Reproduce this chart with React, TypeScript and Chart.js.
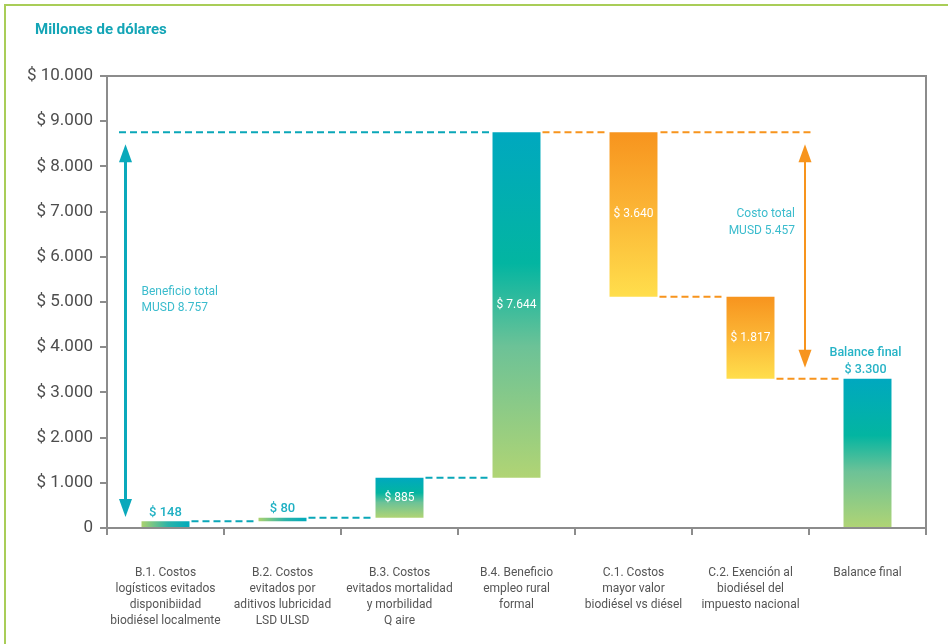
import React, { useEffect, useRef } from 'react';
import { Chart, registerables } from 'chart.js';

Chart.register(...registerables);

// ---------- data ----------
const categories: string[][] = [
  ['B.1. Costos', 'logísticos evitados', 'disponibiidad', 'biodiésel localmente'],
  ['B.2. Costos', 'evitados por', 'aditivos lubricidad', 'LSD ULSD'],
  ['B.3. Costos', 'evitados mortalidad', 'y morbilidad', 'Q aire'],
  ['B.4. Beneficio', 'empleo rural', 'formal'],
  ['C.1. Costos', 'mayor valor', 'biodiésel vs diésel'],
  ['C.2. Exención al', 'biodiésel del', 'impuesto nacional'],
  ['Balance final'],
];
const benefitValues: number[] = [148, 80, 885, 7644];
const costValues: number[] = [3640, 1817];
const balanceValue = 3300;
const yMin = 0;
const yMax = 10000;
const yStep = 1000;
const titleText = 'Millones de dólares';
const benefitLabel = ['Beneficio total', 'MUSD 8.757'];
const costLabel = ['Costo total', 'MUSD 5.457'];
const balanceLabel = ['Balance final', '$ 3.300'];

// ---------- derived ----------
const ranges: [number, number][] = [];
const kinds: string[] = [];
let level = 0;
for (const v of benefitValues) {
  ranges.push([level, level + v]);
  kinds.push('ben');
  level += v;
}
const totalBenefit = level;
for (const v of costValues) {
  ranges.push([level - v, level]);
  kinds.push('cost');
  level -= v;
}
ranges.push([0, balanceValue]);
kinds.push('bal');
const valueLabels: number[] = [...benefitValues, ...costValues, balanceValue];

// ---------- styles ----------
const FONT = 'Roboto, "Liberation Sans", sans-serif';
const TEAL = '#0aa7b8';
const TEAL_TEXT = '#3bbccd';
const ORANGE = '#f7941d';
const GRAY = '#8c8c8c';
const horizontalGradient = [true, true, false, false, false, false, false];
const innerLabel = [false, false, true, true, true, true, false];

const fmt = (v: number) => v.toString().replace(/\B(?=(\d{3})+(?!\d))/g, '.');

function barColor(ctx: any) {
  const chart = ctx.chart;
  const area = chart.chartArea;
  const i = ctx.dataIndex;
  if (!area || i === undefined) return TEAL;
  const c = chart.ctx as CanvasRenderingContext2D;
  const ys = chart.scales.y;
  const xs = chart.scales.x;
  const [lo, hi] = ranges[i];
  const kind = kinds[i];
  if (horizontalGradient[i]) {
    const cx = xs.getPixelForValue(i);
    const w = (area.right - area.left) / categories.length * 0.41;
    const g = c.createLinearGradient(cx - w / 2, 0, cx + w / 2, 0);
    g.addColorStop(0, '#abd26f');
    g.addColorStop(0.55, '#2db3a8');
    g.addColorStop(1, '#00aabb');
    return g;
  }
  const yTop = ys.getPixelForValue(hi);
  const yBot = ys.getPixelForValue(lo);
  const g = c.createLinearGradient(0, yTop, 0, yBot);
  if (kind === 'cost') {
    g.addColorStop(0, '#f7941e');
    g.addColorStop(0.45, '#fbb334');
    g.addColorStop(1, '#ffde4c');
  } else {
    g.addColorStop(0, '#00a8bf');
    g.addColorStop(0.38, '#03b5a1');
    g.addColorStop(0.62, '#6cc297');
    g.addColorStop(1, '#b0d474');
  }
  return g;
}

function drawArrow(c: CanvasRenderingContext2D, x: number, yTop: number, yBot: number, color: string, lw: number) {
  const hw = 13;
  const hh = 18;
  c.save();
  c.setLineDash([]);
  c.strokeStyle = color;
  c.fillStyle = color;
  c.lineWidth = lw;
  c.beginPath();
  c.moveTo(x, yTop + hh - 2);
  c.lineTo(x, yBot - hh + 2);
  c.stroke();
  c.beginPath();
  c.moveTo(x, yTop);
  c.lineTo(x - hw / 2, yTop + hh);
  c.lineTo(x + hw / 2, yTop + hh);
  c.closePath();
  c.fill();
  c.beginPath();
  c.moveTo(x, yBot);
  c.lineTo(x - hw / 2, yBot - hh);
  c.lineTo(x + hw / 2, yBot - hh);
  c.closePath();
  c.fill();
  c.restore();
}

function dashed(c: CanvasRenderingContext2D, x1: number, x2: number, y: number, color: string) {
  c.save();
  c.strokeStyle = color;
  c.lineWidth = 2;
  c.setLineDash([7, 4]);
  c.beginPath();
  c.moveTo(x1, y);
  c.lineTo(x2, y);
  c.stroke();
  c.restore();
}

const annotations = {
  id: 'waterfallAnnotations',
  afterDraw(chart: any) {
    const c = chart.ctx as CanvasRenderingContext2D;
    const area = chart.chartArea;
    const ys = chart.scales.y;
    const meta = chart.getDatasetMeta(0);
    const bars = meta.data as any[];
    const W = chart.width;
    const H = chart.height;

    // outer green frame
    c.save();
    c.strokeStyle = '#a9cd58';
    c.lineWidth = 2;
    c.beginPath();
    c.moveTo(5, H + 2);
    c.lineTo(5, 5);
    c.lineTo(W + 2, 5);
    c.stroke();
    c.restore();

    // plot top / right border
    c.save();
    c.strokeStyle = GRAY;
    c.lineWidth = 2;
    c.beginPath();
    c.moveTo(area.left, area.top);
    c.lineTo(area.right, area.top);
    c.lineTo(area.right, area.bottom);
    c.stroke();
    c.restore();

    // title
    c.save();
    c.font = `bold 15px ${FONT}`;
    c.fillStyle = '#14a5b6';
    c.textAlign = 'left';
    c.textBaseline = 'middle';
    c.fillText(titleText, 35, 30);
    c.restore();

    const edge = (b: any, side: number) => b.x + side * b.width / 2;

    // connectors
    const yTotal = ys.getPixelForValue(totalBenefit);
    dashed(c, area.left + 12, edge(bars[3], -1) - 2, yTotal, TEAL);
    for (let i = 0; i < bars.length - 1; i++) {
      const lvl = kinds[i] === 'cost' ? ranges[i][0] : ranges[i][1];
      const color = kinds[i + 1] === 'ben' ? TEAL : ORANGE;
      const y = ys.getPixelForValue(lvl);
      dashed(c, edge(bars[i], 1) + 2, edge(bars[i + 1], -1) - 3, y, color);
    }
    const arrowX2 = chart.scales.x.getPixelForValue(5) + (area.right - area.left) / categories.length / 2 - 4;
    dashed(c, edge(bars[4], 1) + 3, arrowX2 + 6, yTotal, ORANGE);

    // arrows
    const arrowX1 = area.left + 18.5;
    drawArrow(c, arrowX1, yTotal + 12, ys.getPixelForValue(0) - 11, '#0aa9bb', 3);
    drawArrow(c, arrowX2, yTotal + 12, ys.getPixelForValue(balanceValue) - 11, '#f7941d', 2);

    // arrow texts
    c.save();
    c.font = `12px ${FONT}`;
    c.fillStyle = TEAL_TEXT;
    c.textBaseline = 'middle';
    c.textAlign = 'left';
    const by = ys.getPixelForValue(5050);
    c.fillText(benefitLabel[0], arrowX1 + 16, by - 8);
    c.fillText(benefitLabel[1], arrowX1 + 16, by + 8);
    c.textAlign = 'right';
    const cy = ys.getPixelForValue(6760);
    c.fillText(costLabel[0], arrowX2 - 10, cy - 8.5);
    c.fillText(costLabel[1], arrowX2 - 10, cy + 8.5);
    c.restore();

    // bar value labels
    c.save();
    c.textAlign = 'center';
    c.textBaseline = 'middle';
    bars.forEach((b: any, i: number) => {
      if (kinds[i] === 'bal') {
        c.font = `500 12.5px ${FONT}`;
        c.fillStyle = '#26b3c6';
        c.fillText(balanceLabel[0], b.x - 2, b.y - 26);
        c.fillText(balanceLabel[1], b.x - 2, b.y - 9);
        return;
      }
      const txt = '$ ' + fmt(valueLabels[i]);
      if (innerLabel[i]) {
        c.font = `12px ${FONT}`;
        c.fillStyle = '#ffffff';
        c.fillText(txt, b.x, (b.y + b.base) / 2);
      } else {
        c.font = `500 13px ${FONT}`;
        c.fillStyle = '#1fb0c3';
        const top = Math.min(b.y, b.base);
        c.fillText(txt, b.x, top - 9);
      }
    });
    c.restore();
  },
};

export default function App() {
  const ref = useRef<HTMLCanvasElement | null>(null);

  useEffect(() => {
    if (!ref.current) return;
    Chart.defaults.font.family = FONT;
    const chart = new Chart(ref.current, {
      type: 'bar',
      data: {
        labels: categories,
        datasets: [
          {
            data: ranges as any,
            backgroundColor: barColor as any,
            borderWidth: 0,
            categoryPercentage: 1,
            barPercentage: 0.41,
          },
        ],
      },
      options: {
        responsive: false,
        animation: false,
        devicePixelRatio: 1,
        layout: { padding: { left: 0, top: 76, right: 22, bottom: 0 } },
        plugins: {
          legend: { display: false },
          tooltip: { enabled: false },
          title: { display: false },
        },
        scales: {
          x: {
            grid: {
              offset: true,
              drawOnChartArea: false,
              drawTicks: true,
              tickLength: 7,
              color: GRAY,
              lineWidth: 2,
            },
            border: { display: true, color: GRAY, width: 2 },
            ticks: {
              autoSkip: false,
              maxRotation: 0,
              minRotation: 0,
              padding: 30,
              color: '#555555',
              font: { size: 12, lineHeight: 1.33, family: FONT },
            },
            afterFit: (s: any) => {
              s.height = 116;
            },
          },
          y: {
            min: yMin,
            max: yMax,
            ticks: {
              stepSize: yStep,
              padding: 7,
              color: '#4d4d4d',
              font: { size: 17, family: FONT },
              callback: (v: any) => (Number(v) === 0 ? '0' : '$ ' + fmt(Number(v))),
            },
            grid: {
              drawOnChartArea: false,
              drawTicks: true,
              tickLength: 7,
              color: GRAY,
              lineWidth: 2,
            },
            border: { display: true, color: GRAY, width: 2 },
            afterFit: (s: any) => {
              s.width = 107;
            },
          },
        },
      },
      plugins: [annotations],
    });
    return () => chart.destroy();
  }, []);

  return (
    <div style={{ position: 'fixed', left: 0, top: 0, width: 948, height: 644, background: '#ffffff' }}>
      <canvas ref={ref} width={948} height={644} style={{ display: 'block' }} />
    </div>
  );
}
